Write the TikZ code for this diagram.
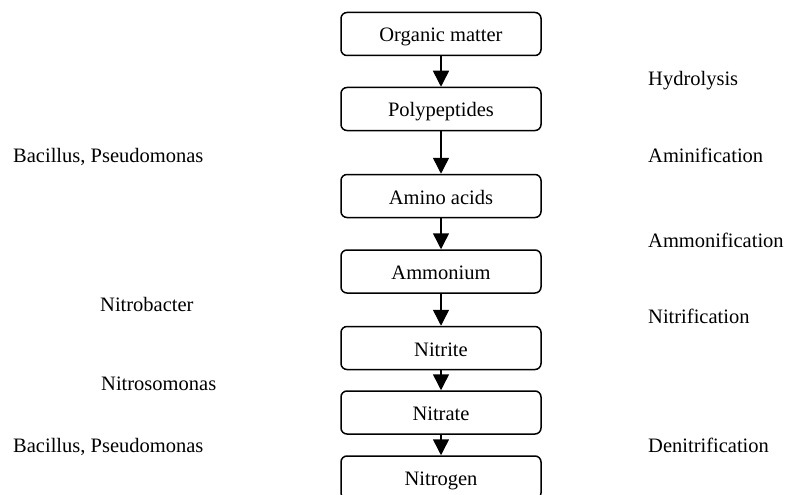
\documentclass[tikz,border=0pt]{standalone}
\usepackage{fontspec}
\setmainfont{Liberation Serif}
\usetikzlibrary{arrows.meta}
\begin{document}
\begin{tikzpicture}[x=1pt,y=-1pt,
  font=\fontsize{20.5}{24}\selectfont,
  stage/.style={draw, line width=1.5pt, rounded corners=6pt,
    minimum width=200pt, minimum height=43pt, inner sep=0pt,
    text height=16pt, text depth=0pt},
  flow/.style={line width=1.5pt, -{Triangle[length=16pt,width=16pt]}},
  tag/.style={anchor=base west, inner sep=0pt}]
  \useasboundingbox (0,0) rectangle (785,495);
  \clip (0,0) rectangle (785,495);

  % stages of the nitrogen cycle
  \node[stage] (om) at (441,34) {Organic matter};
  \node[stage] (pp) at (441,109) {Polypeptides};
  \node[stage] (aa) at (441,196) {Amino acids};
  \node[stage] (am) at (441,271.5) {Ammonium};
  \node[stage] (ni) at (441,348) {Nitrite};
  \node[stage] (na) at (441,412.5) {Nitrate};
  \node[stage] (n2) at (441,477.5) {Nitrogen};

  \draw[flow] (om) -- (pp);
  \draw[flow] (pp) -- (aa);
  \draw[flow] (aa) -- (am);
  \draw[flow] (am) -- (ni);
  \draw[flow] (ni) -- (na);
  \draw[flow] (na) -- (n2);

  % processes
  \node[tag] (hy) at (648,85) {Hydrolysis};
  \node[tag] (ai) at (648,162) {Aminification};
  \node[tag] (ao) at (648,247) {Ammonification};
  \node[tag] (nf) at (648,323) {Nitrification};
  \node[tag] (dn) at (648,452) {Denitrification};

  % organisms
  \node[tag] (b1) at (13,162) {Bacillus, Pseudomonas};
  \node[tag] (nb) at (100,311) {Nitrobacter};
  \node[tag] (ns) at (101,390) {Nitrosomonas};
  \node[tag] (b2) at (13,452) {Bacillus, Pseudomonas};
\end{tikzpicture}
\end{document}
